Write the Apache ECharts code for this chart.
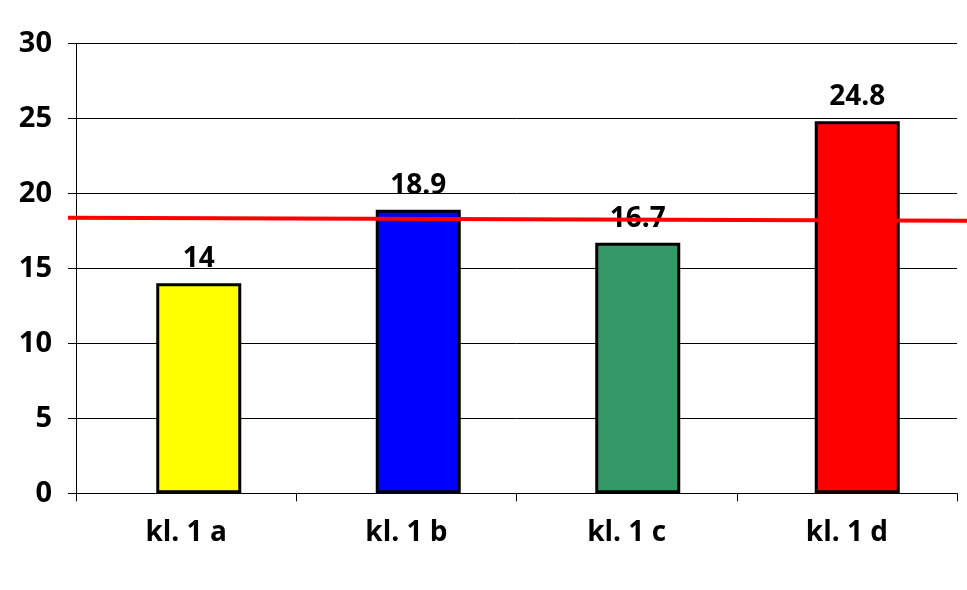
<!DOCTYPE html>
<html>
<head>
<meta charset="utf-8">
<script src="https://cdn.jsdelivr.net/npm/echarts@6/dist/echarts.min.js"></script>
<style>html,body{margin:0;padding:0;background:#fff}#c{width:967px;height:590px}</style>
</head>
<body>
<div id="c"></div>
<script>
const categories = ['kl. 1 a', 'kl. 1 b', 'kl. 1 c', 'kl. 1 d'];
const values = [14, 18.9, 16.7, 24.8];
const barColors = ['#FFFF00', '#0000FF', '#339966', '#FF0000'];
const meanLine = [18.37, 18.17];
const yTicks = [0, 5, 10, 15, 20, 25, 30];

const FONT = 'Open Sans';
const chart = echarts.init(document.getElementById('c'), null, {renderer: 'canvas'});
const gTop = 43.3, gBottom = 96.7;
chart.setOption({
  animation: false,
  backgroundColor: '#fff',
  grid: [
    {left: 76, right: 10, top: gTop, bottom: gBottom},
    {left: 89, right: -3, top: gTop, bottom: gBottom},
    {left: 68, right: 0, top: gTop, bottom: gBottom}
  ],
  xAxis: [
    {gridIndex: 0, type: 'category', data: categories,
     axisLine: {lineStyle: {color: '#000', width: 1}},
     axisTick: {show: true, length: 8, lineStyle: {color: '#000'}},
     axisLabel: {color: '#000', fontFamily: FONT, fontWeight: 'bold', fontSize: 28, margin: 26},
     splitLine: {show: false}},
    {gridIndex: 1, type: 'category', data: categories, show: false},
    {gridIndex: 2, type: 'value', min: 0, max: 1, show: false}
  ],
  yAxis: [
    {gridIndex: 0, type: 'value', min: yTicks[0], max: yTicks[yTicks.length - 1], interval: 5,
     axisLine: {show: true, lineStyle: {color: '#000', width: 1}},
     axisTick: {show: true, length: 8, lineStyle: {color: '#000'}},
     axisLabel: {color: '#000', fontFamily: FONT, fontWeight: 'bold', fontSize: 29, margin: 24},
     splitLine: {show: true, lineStyle: {color: '#000', width: 1}}},
    {gridIndex: 1, type: 'value', min: 0, max: 30, show: false},
    {gridIndex: 2, type: 'value', min: 0, max: 30, show: false}
  ],
  series: [
    {type: 'bar', xAxisIndex: 1, yAxisIndex: 1, barWidth: 85, z: 3,
     data: values.map((v, i) => ({value: v, itemStyle: {color: barColors[i]}})),
     itemStyle: {borderColor: '#000', borderWidth: 3},
     label: {show: true, position: 'top', distance: 10, color: '#000',
             fontFamily: FONT, fontWeight: 'bold', fontSize: 28}},
    {type: 'line', xAxisIndex: 2, yAxisIndex: 2, z: 5, symbol: 'none', silent: true,
     lineStyle: {color: '#FF0000', width: 4},
     data: meanLine.map((v, i) => [i, v])}
  ]
});
</script>
</body>
</html>
